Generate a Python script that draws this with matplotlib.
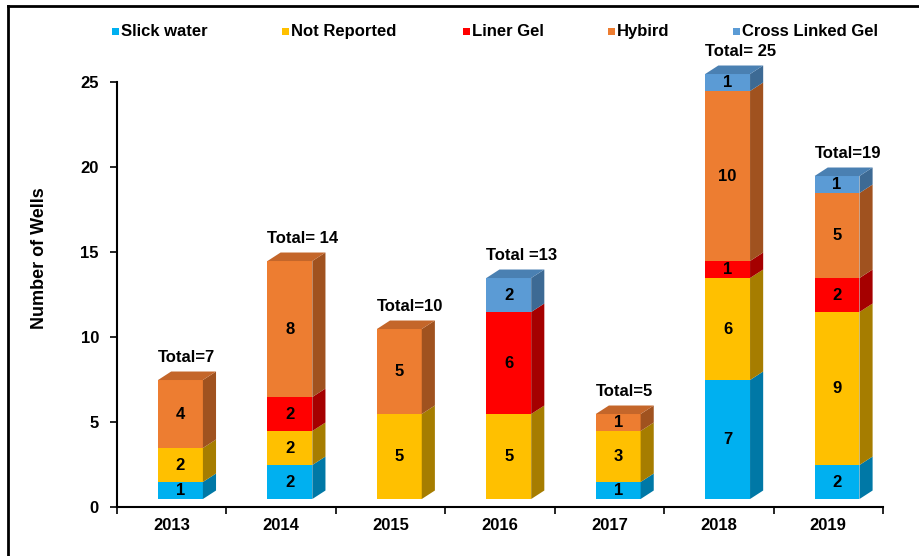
import matplotlib
matplotlib.use('Agg')

import matplotlib.pyplot as plt
from matplotlib.patches import Polygon, Rectangle
from matplotlib.lines import Line2D

plt.rcParams['font.family'] = ['Liberation Sans', 'DejaVu Sans']
plt.rcParams['font.weight'] = 'bold'

# data
years = ['2013', '2014', '2015', '2016', '2017', '2018', '2019']
slick_water = [1, 2, 0, 0, 1, 7, 2]
not_reported = [2, 2, 5, 5, 3, 6, 9]
liner_gel = [0, 2, 0, 6, 0, 1, 2]
hybird = [4, 8, 5, 0, 1, 10, 5]
cross_linked = [0, 0, 0, 2, 0, 1, 1]
total_labels = ['Total=7', 'Total= 14', 'Total=10', 'Total =13',
                'Total=5', 'Total= 25', 'Total=19']

series_names = ['Slick water', 'Not Reported', 'Liner Gel', 'Hybird', 'Cross Linked Gel']
series_vals = [slick_water, not_reported, liner_gel, hybird, cross_linked]
# front, side, top shades
shades = [('#00B0F0', '#0078A6', '#0095CC'),
          ('#FFC000', '#A67D00', '#D9A300'),
          ('#FF0000', '#A50000', '#CC0000'),
          ('#ED7D31', '#A0521F', '#C4662A'),
          ('#5B9BD5', '#3D6A94', '#4A80B2')]

fs = 12

fig = plt.figure(figsize=(9.2, 5.56), dpi=100)
ax = fig.add_axes([117 / 920, 49 / 556, 766 / 920, 425 / 556])

# 3d box geometry (data units)
left_off = -0.125   # front face left, relative to category centre
width = 0.41
dx = 0.12           # depth to the right
dy = 0.5            # depth upward
base = 0.47         # front face floor sits slightly above 0

for i, yr in enumerate(years):
    x0 = i + left_off
    x1 = x0 + width
    bottom = base
    stack = [(v[i], sh) for v, sh in zip(series_vals, shades) if v[i] > 0]
    for k, (v, sh) in enumerate(stack):
        top = bottom + v
        ax.add_patch(Rectangle((x0, bottom), width, v, facecolor=sh[0],
                               edgecolor='none', zorder=2, clip_on=False))
        ax.add_patch(Polygon([(x1, bottom), (x1 + dx, bottom + dy),
                              (x1 + dx, top + dy), (x1, top)],
                             facecolor=sh[1], edgecolor='none', zorder=2, clip_on=False))
        if k == len(stack) - 1:
            ax.add_patch(Polygon([(x0, top), (x1, top), (x1 + dx, top + dy),
                                  (x0 + dx, top + dy)],
                                 facecolor=sh[2], edgecolor='none', zorder=2, clip_on=False))
        ax.text(x0 + width / 2, bottom + v / 2, str(v), ha='center', va='center',
                fontsize=fs, fontweight='bold', zorder=3)
        bottom = top
    ax.text(x0, bottom + dy + 0.8, total_labels[i], ha='left', va='center',
            fontsize=fs, fontweight='bold', zorder=3, clip_on=False)

ax.set_xlim(-0.5, len(years) - 0.5)
ax.set_ylim(0, 25)
ax.set_xticks(range(len(years)))
ax.set_xticklabels(years, fontsize=fs, fontweight='bold')
ax.set_xticks([i - 0.5 for i in range(len(years) + 1)], minor=True)
ax.tick_params(axis='x', which='major', length=0, pad=8)
ax.tick_params(axis='x', which='minor', length=5, width=1.2, direction='out')
ax.set_yticks([0, 5, 10, 15, 20, 25])
ax.set_yticklabels(['0', '5', '10', '15', '20', '25'], fontsize=fs, fontweight='bold')
ax.tick_params(axis='y', length=5, width=1.2, pad=8)
ax.spines['top'].set_visible(False)
ax.spines['right'].set_visible(False)
ax.spines['left'].set_linewidth(1.5)
ax.spines['bottom'].set_linewidth(1.5)

fig.text(40 / 920, 1 - 258 / 556, 'Number of Wells', rotation=90, ha='center',
         va='center', fontsize=13, fontweight='bold')

# legend across the top
leg_x = [112, 282, 463, 608, 733]
for name, sh, lx in zip(series_names, shades, leg_x):
    fig.patches.append(Rectangle((lx / 920, 1 - 35 / 556), 7 / 920, 7 / 556,
                                 facecolor=sh[0], edgecolor='none',
                                 transform=fig.transFigure))
    fig.text((lx + 9) / 920, 1 - 36 / 556, name, ha='left', va='baseline',
             fontsize=fs, fontweight='bold')

# picture frame (top and left edges)
fig.lines.append(Line2D([8 / 920, 8 / 920], [0, 1 - 6 / 556], color='black',
                        lw=2, transform=fig.transFigure))
fig.lines.append(Line2D([8 / 920, 1], [1 - 6 / 556, 1 - 6 / 556], color='black',
                        lw=2, transform=fig.transFigure))

fig.savefig('out.png', dpi=100)
